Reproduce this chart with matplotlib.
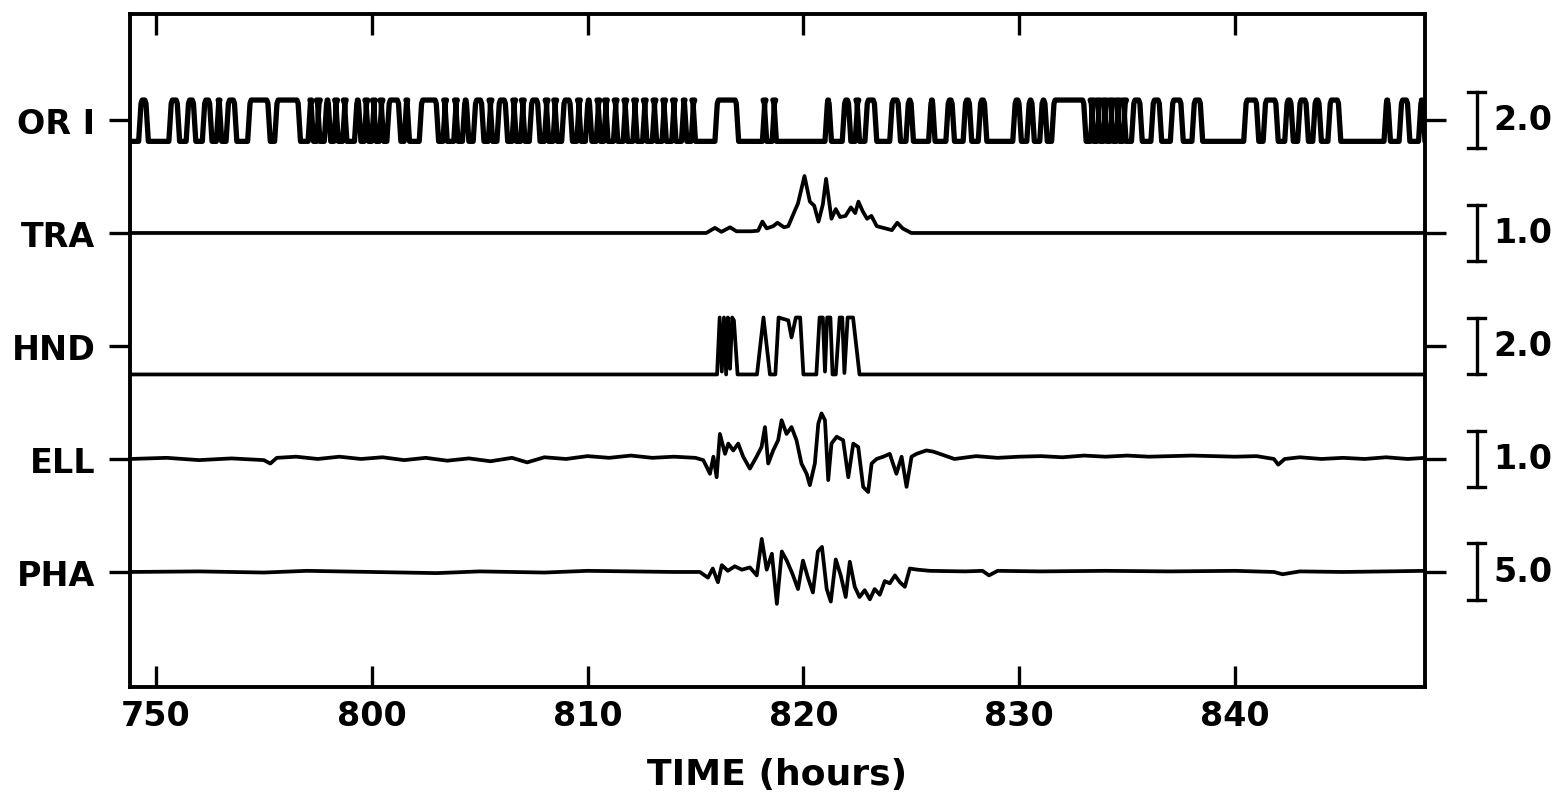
import numpy as np
import matplotlib.pyplot as plt

plt.rcParams["font.family"] = "DejaVu Sans"
plt.rcParams["font.weight"] = "bold"

# channel names, scale-bar values (one bar = this many units)
names = ["OR I", "TRA", "HND", "ELL", "PHA"]
bar_vals = [2.0, 1.0, 2.0, 1.0, 5.0]
rows = [5, 4, 3, 2, 1]

xticks = [790, 800, 810, 820, 830, 840]
xticklabels = ["750", "800", "810", "820", "830", "840"]

t_start = 788.8
t_end = 848.8

# ORI: high intervals (hours)
ori_pulses = [
    (789.2, 789.65), (790.6, 791.1), (791.4, 791.85), (792.15, 792.6),
    (792.8, 793.05), (793.25, 793.75), (794.25, 795.3), (795.5, 796.7),
    (797.05, 797.3), (797.45, 797.6), (797.8, 798.1), (798.25, 798.45),
    (798.65, 798.85), (799.2, 799.5), (799.65, 799.85), (800.0, 800.2),
    (800.35, 800.55), (800.7, 801.35), (801.5, 801.75), (802.2, 803.1),
    (803.3, 803.5), (803.8, 804.0), (804.2, 804.5), (804.7, 805.2),
    (805.4, 805.6), (805.8, 806.3), (806.5, 806.7), (806.9, 807.1),
    (807.3, 807.8), (808.0, 808.2), (808.4, 808.6), (808.8, 809.3),
    (809.5, 809.7), (809.9, 810.2), (810.4, 810.6), (810.75, 810.95),
    (811.2, 811.4), (811.65, 811.85), (812.1, 812.3), (812.55, 812.75),
    (813.0, 813.2), (813.45, 813.65), (813.9, 814.1), (814.35, 814.6),
    (814.8, 815.0), (815.9, 817.0), (818.1, 818.3), (818.55, 818.75),
    (821.0, 821.3), (821.8, 822.2), (822.4, 822.6), (822.85, 823.4),
    (824.0, 824.5), (824.75, 825.1), (825.8, 826.1), (826.6, 827.0),
    (827.4, 827.8), (828.1, 828.5), (829.7, 830.1), (830.35, 830.7),
    (830.95, 831.3), (831.5, 833.1), (833.3, 833.45), (833.6, 833.75),
    (833.9, 834.05), (834.2, 834.35), (834.5, 834.65), (834.8, 834.95),
    (835.2, 835.7), (836.1, 836.6), (837.0, 837.6), (838.0, 838.5),
    (840.4, 841.1), (841.3, 842.0), (842.3, 842.7), (842.9, 843.4),
    (843.6, 844.0), (844.3, 844.9), (846.9, 847.2), (847.6, 848.1),
    (848.5, 848.8),
]
ori_lo, ori_hi = -0.75, 0.7

tra_t = [788.8, 815.5, 815.9, 816.2, 816.6, 816.9, 817.6, 817.9, 818.1, 818.3,
         818.6, 818.8, 819.1, 819.3, 819.5, 819.75, 820.05, 820.3, 820.5, 820.7,
         820.9, 821.05, 821.3, 821.5, 821.7, 821.95, 822.2, 822.4, 822.55, 822.75,
         822.95, 823.15, 823.4, 823.8, 824.1, 824.35, 824.6, 825.0, 848.8]
tra_v = [0.0, 0.0, 0.09, 0.02, 0.1, 0.03, 0.03, 0.04, 0.2, 0.08,
         0.12, 0.18, 0.1, 0.12, 0.3, 0.52, 1.0, 0.55, 0.48, 0.2,
         0.5, 0.95, 0.25, 0.42, 0.28, 0.3, 0.45, 0.35, 0.55, 0.38,
         0.25, 0.3, 0.12, 0.08, 0.05, 0.18, 0.08, 0.0, 0.0]

hnd_t = [788.8, 816.0, 816.12, 816.22, 816.32, 816.42, 816.5, 816.6, 816.7, 816.78,
         816.95, 817.85, 818.15, 818.45, 818.7, 818.85, 819.3, 819.45, 819.65, 819.85,
         820.0, 820.6, 820.75, 820.9, 821.0, 821.1, 821.25, 821.35, 821.5, 821.68,
         821.8, 821.9, 822.05, 822.3, 822.6, 848.8]
hnd_v = [-1.0, -1.0, 1.0, -0.9, 1.0, -1.0, 1.0, -0.8, 1.0, 0.9,
         -1.0, -1.0, 1.0, -1.0, -1.0, 1.0, 0.9, 0.3, 1.0, 1.0,
         -1.0, -1.0, 1.0, 1.0, -0.9, 1.0, 1.0, -1.0, -1.0, 1.0,
         1.0, -0.95, 1.0, 1.0, -1.0, -1.0]

ell_t = [788.8, 790.5, 792.0, 793.5, 795.0, 795.3, 795.6, 796.5, 797.5, 798.5,
         799.5, 800.5, 801.5, 802.5, 803.5, 804.5, 805.5, 806.5, 807.2, 808.0,
         809.0, 810.0, 811.0, 812.0, 813.0, 814.0, 815.0,
         815.36, 815.52, 815.67, 815.83, 815.98, 816.13, 816.37, 816.52, 816.75, 816.98,
         817.21, 817.52, 817.83, 818.06, 818.22, 818.37, 818.6, 818.83, 818.99, 819.22,
         819.45, 819.68, 819.91, 820.15, 820.3, 820.53, 820.69, 820.84, 821.0, 821.15,
         821.3, 821.54, 821.84, 822.08, 822.31, 822.54, 822.77, 823.0, 823.16, 823.39,
         823.7, 824.0, 824.31, 824.55, 824.78, 825.01, 825.24, 825.7, 826.01, 826.32,
         827.0, 828.0, 829.0, 830.0, 831.0, 832.0, 833.0, 834.0, 835.0, 836.0,
         837.0, 838.0, 839.0, 840.0, 841.0, 841.8, 842.0, 842.3, 843.0, 844.0,
         845.0, 846.0, 847.0, 848.0, 848.8]
ell_v = [0.0, 0.02, -0.02, 0.01, -0.02, -0.08, 0.02, 0.04, 0.0, 0.04,
         0.0, 0.03, -0.02, 0.02, -0.03, 0.01, -0.04, 0.02, -0.06, 0.03,
         0.0, 0.05, 0.02, 0.06, 0.02, 0.04, 0.02,
         -0.02, -0.14, -0.26, 0.04, -0.32, 0.44, 0.09, 0.27, 0.15, 0.27,
         0.04, -0.17, 0.04, 0.21, 0.56, -0.08, 0.15, 0.33, 0.68, 0.44,
         0.56, 0.33, -0.08, -0.26, -0.46, -0.08, 0.62, 0.8, 0.68, -0.37,
         0.27, 0.39, 0.33, -0.32, 0.27, 0.21, -0.49, -0.58, -0.08, 0.0,
         0.04, 0.09, -0.26, 0.04, -0.49, 0.04, 0.09, 0.15, 0.13, 0.09,
         0.0, 0.05, 0.02, 0.04, 0.05, 0.03, 0.06, 0.04, 0.06, 0.04,
         0.05, 0.06, 0.05, 0.04, 0.05, 0.0, -0.1, 0.0, 0.03, 0.0,
         0.02, 0.0, 0.03, 0.0, 0.02]

pha_t = [788.8, 792.0, 795.0, 797.0, 800.0, 803.0, 805.0, 808.0, 810.0, 812.0,
         814.0, 815.2, 815.58, 815.8, 816.04, 816.22, 816.5, 816.82, 817.15, 817.52,
         817.84, 818.07, 818.3, 818.54, 818.77, 819.0, 819.23, 819.5, 819.75, 819.98,
         820.21, 820.44, 820.67, 820.86, 821.08, 821.27, 821.5, 821.73, 821.96, 822.15,
         822.38, 822.6, 822.84, 823.08, 823.3, 823.54, 823.77, 824.0, 824.24, 824.47,
         824.7, 824.93, 825.3, 825.86, 827.5, 828.3, 828.6, 829.0, 831.0, 834.0,
         837.0, 840.0, 841.8, 842.2, 843.0, 845.0, 847.0, 848.8]
pha_v = [0.0, 0.05, -0.05, 0.1, 0.0, -0.1, 0.05, -0.05, 0.1, 0.05,
         0.0, 0.0, -0.5, 0.3, -0.9, 0.6, 0.1, 0.5, 0.2, 0.4,
         -0.3, 2.9, 0.2, 1.6, -2.8, 1.8, 1.0, -0.2, -1.5, 1.0,
         -0.5, -1.8, 1.8, 2.2, -1.5, -2.6, 1.1, -0.3, -2.2, 0.9,
         -1.3, -2.2, -1.6, -2.4, -1.5, -2.0, -0.8, -1.0, -0.3, -0.9,
         -1.3, 0.3, 0.2, 0.1, 0.05, 0.1, -0.3, 0.1, 0.05, 0.1,
         0.05, 0.1, 0.0, -0.2, 0.05, 0.0, 0.05, 0.1]

# build ORI polyline from the pulse edges (sloped edges, slightly rounded tops)
ramp = 0.11
ori_t = [t_start]
ori_v = [ori_lo]
for a, b in ori_pulses:
    ori_t += [a, a + ramp, a + ramp * 1.5, b - ramp * 1.5, b - ramp, b]
    ori_v += [ori_lo, ori_hi - 0.12, ori_hi, ori_hi, ori_hi - 0.12, ori_lo]
ori_t.append(t_end)
ori_v.append(ori_lo)

series = [(ori_t, ori_v), (tra_t, tra_v), (hnd_t, hnd_v), (ell_t, ell_v), (pha_t, pha_v)]
widths = [3.8, 2.7, 2.7, 2.7, 2.7]

W, H = 1565, 803
fig = plt.figure(figsize=(W / 100, H / 100), dpi=100)
ax = fig.add_axes([130 / W, 1 - 688 / H, 1295 / W, 673 / H])

bar_len = 0.504  # one scale bar, in row units
for (t, v), r, bv, lw in zip(series, rows, bar_vals, widths):
    y = r + np.array(v) / bv * bar_len
    ax.plot(t, y, color="black", lw=lw, solid_joinstyle="round", solid_capstyle="round")

ax.set_xlim(t_start, t_end)
ax.set_ylim(-0.018, 5.938)

ax.set_xticks(xticks)
ax.set_xticklabels(xticklabels)
ax.set_yticks(rows)
ax.set_yticklabels(names)
ax.tick_params(axis="x", direction="in", top=True, bottom=True, length=15, width=2.4,
               labelsize=24, pad=9)
ax.tick_params(axis="y", direction="out", left=True, right=True, length=15, width=2.4,
               labelsize=24, pad=10)
for s in ax.spines.values():
    s.set_linewidth(2.8)

ax.set_xlabel("TIME (hours)", fontsize=26, fontweight="bold", labelpad=18)

# scale bars on the right
trans = ax.get_yaxis_transform()
bx = 1.0401
sw = 0.0066
for r, bv in zip(rows, bar_vals):
    y0 = r - bar_len / 2
    y1 = r + bar_len / 2
    ax.plot([bx, bx], [y0, y1], color="black", lw=2.4, transform=trans, clip_on=False)
    ax.plot([bx - sw, bx + sw], [y0, y0], color="black", lw=2.4, transform=trans, clip_on=False)
    ax.plot([bx - sw, bx + sw], [y1, y1], color="black", lw=2.4, transform=trans, clip_on=False)
    ax.text(1.053, r, "%.1f" % bv, transform=trans, ha="left", va="center",
            fontsize=24, fontweight="bold")

plt.savefig("out.png", dpi=100)
